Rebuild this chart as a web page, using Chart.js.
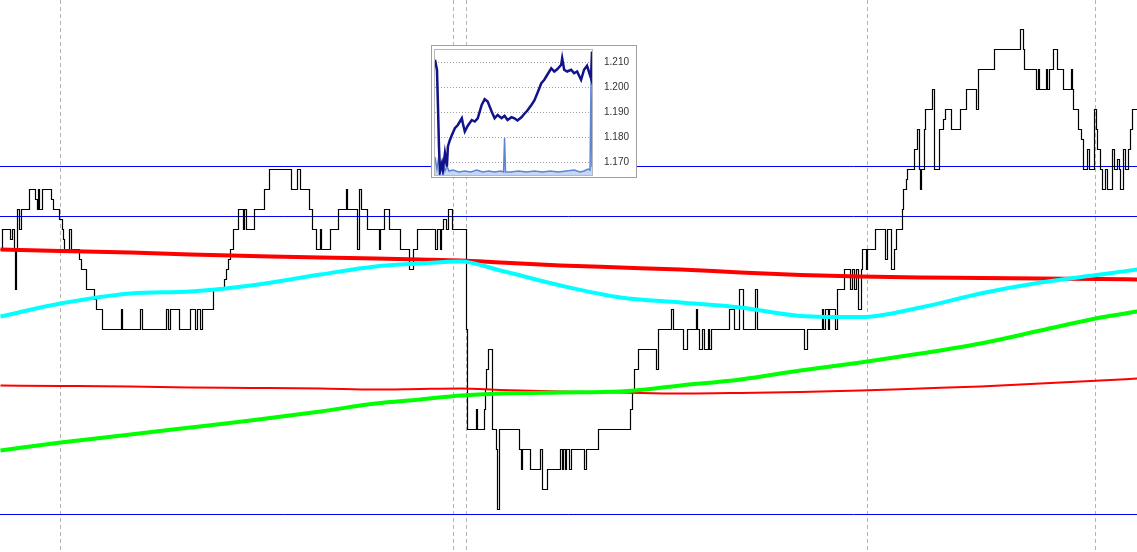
<!DOCTYPE html>
<html>
<head>
<meta charset="utf-8">
<script src="https://cdn.jsdelivr.net/npm/chart.js@4.4.1/dist/chart.umd.min.js"></script>
<style>
html,body{margin:0;padding:0;background:#fff;overflow:hidden}
#wrap{position:relative;width:1137px;height:552px}
#mainC{position:absolute;left:0;top:0}
#inset{position:absolute;left:431px;top:45px;width:204px;height:131px;border:1px solid #a0a0a0;background:#fff}
</style>
</head>
<body>
<div id="wrap">
  <canvas id="mainC" width="1137" height="552" style="width:1137px;height:552px"></canvas>
  <div id="inset"><canvas id="insetC" width="204" height="131" style="width:204px;height:131px"></canvas></div>
</div>
<script>
// ── DATA ────────────────────────────────────────────────────────────────────
// price in pips above the bottom level, step changes: [bar, level]
const tickBar = [0,2,10,12,14,15,16,17,19,21,29,35,37,38,39,42,51,53,59,62,63,64,69,71,79,81,86,94,96,102,
  121,122,140,142,166,168,170,179,190,195,197,200,202,213,224,226,228,230,233,238,243,244,246,254,264,269,
  291,297,300,309,312,316,320,321,330,338,346,347,357,359,361,367,379,380,384,389,400,409,413,417,435,437,
  440,441,443,446,448,452,466,467,476,477,484,485,486,488,492,496,497,499,519,521,522,530,540,542,547,560,
  562,563,565,566,569,571,584,586,598,630,632,634,638,656,658,671,673,683,687,696,697,699,702,704,708,709,
  711,729,734,739,743,755,757,804,807,822,823,825,828,829,835,837,844,850,852,854,856,858,861,862,866,867,
  875,885,887,891,894,896,902,903,906,907,914,917,919,920,921,924,925,932,934,937,939,943,945,951,960,966,
  976,978,994,1020,1023,1024,1036,1038,1039,1046,1047,1049,1053,1057,1063,1071,1072,1073,1078,1081,1083,
  1087,1089,1094,1096,1097,1100,1102,1105,1107,1112,1114,1117,1119,1120,1123,1125,1128,1130,1132,1137];
const tickLvl = [13,14,13.5,14,13,11,13,15,14,15,16,15.5,15,16,15,16,15.5,15,14.5,14,13.5,13,14,13,12.5,12,11,10.5,10,9,
  10,9,10,9,10,9,10,9,10,9,10,9,10,11,11.5,12,12.5,13,14,15,14,15,14,15,16,17,
  16,17,16,15,14,13,14,13,14,15,16,15,13,16,15,14,13,14,15,14,13,12,13,14,13,14,
  13,14,14.5,14,15,14,9,4,5,4,5,6,7,8,4,3,0,4,3,2,3,2,3,1,2,3,
  2,3,2,3,2,3,2,3,4,5,6,7,8,7,9,10,9,8,9,10,9,8,9,8,9,8,
  9,10,9,11,9,11,9,8,9,10,9,10,9,10,9,11,12,11,12,11,12,10,12,13,12,13,
  14,12.5,14,12,13,14,15,16,16.5,17,18,19,17,16,17,19,20,21,17,17,19,19.5,20,19,20,21,
  20,22,23,24,23,22,21,22,21,22,21,22,23,22,21,22,21,20,19,18.5,17,
  18,17,20,19,18,17,16,17,16,18,17,17.5,17,16,18,17,18,19,20,20];

// moving averages sampled along the bars
const maBar   = [0,60,130,190,250,320,375,420,460,500,560,620,680,740,800,860,920,980,1040,1100,1137];
const maFast  = [9.65,10.3,10.8,10.9,11.2,11.75,12.15,12.3,12.4,11.95,11.2,10.6,10.35,10.1,9.68,9.62,10.1,10.8,11.35,11.75,12.0];
const maMid   = [13.0,12.93,12.85,12.75,12.68,12.6,12.55,12.5,12.45,12.35,12.2,12.1,12.0,11.85,11.73,11.65,11.6,11.58,11.55,11.53,11.5];
const maSlow  = [2.95,3.35,3.75,4.1,4.45,4.9,5.3,5.5,5.7,5.8,5.85,5.9,6.2,6.5,6.95,7.35,7.8,8.3,8.95,9.6,9.9];
const maLong  = [6.2,6.18,6.15,6.1,6.08,6.05,6.0,6.03,6.05,5.98,5.9,5.85,5.8,5.83,5.88,5.95,6.05,6.15,6.3,6.45,6.55];

const hLevels = [17.15,14.65,-0.25];
const daySep  = [60,453,466,867,1095];

// inset: daily overview
const insetT  = [0,2,3,4,5,7,8,10,12,13,15,17,20,23,27,28,30,33,37,40,43,47,50,53,57,60,63,67,70,73,
  77,80,83,87,90,93,97,100,103,107,110,113,117,120,123,127,128,130,133,137,140,143,147,150,153,157,158];
const insetPx = [1.2111,1.2070,1.1924,1.1764,1.1664,1.1697,1.1670,1.1737,1.1684,1.1764,1.1790,1.1810,1.1837,1.1850,1.1877,1.1857,1.1824,1.1847,1.1870,1.1864,
  1.1877,1.1930,1.1953,1.1944,1.1904,1.1877,1.1890,1.1877,1.1887,1.1870,1.1881,1.1877,1.1868,1.1881,1.1895,1.1908,1.1930,1.1948,1.1977,1.2017,
  1.2031,1.2051,1.2077,1.2064,1.2073,1.2091,1.2117,1.2071,1.2064,1.2071,1.2057,1.2064,1.2031,1.2071,1.2087,1.2037,1.2144];
const volT = [0,2,4,6,8,10,12,14,18,24,30,36,42,48,54,60,66,69,70,71,76,84,92,100,108,116,124,132,140,146,150,154,156,157,158];
const vol  = [18,6,20,5,12,4,9,4,5,3,4,3,5,3,4,3,4,3,37,3,3,4,3,4,3,4,3,4,5,3,4,6,5,95,8];
const insetTicks = [1.17,1.18,1.19,1.20,1.21];

// ── HELPERS ─────────────────────────────────────────────────────────────────
const pts = (xs, ys) => xs.map((x,i)=>({x, y:ys[i]}));
const ma = (ys, color, w) => ({data:pts(maBar, ys), borderColor:color, borderWidth:w, cubicInterpolationMode:'monotone', pointRadius:0});
const hline = v => ({data:[{x:-1,y:v},{x:1138,y:v}], borderColor:'#0000ff', borderWidth:1, pointRadius:0});

const sepLines = {
  id:'sepLines',
  beforeDatasetsDraw(c){
    const {ctx, chartArea:a, scales:{x}} = c;
    ctx.save();
    ctx.strokeStyle='#b4b4b4'; ctx.lineWidth=1; ctx.setLineDash([4,3]);
    daySep.forEach(v=>{
      const px = x.getPixelForValue(v);
      ctx.beginPath(); ctx.moveTo(px,a.top); ctx.lineTo(px,a.bottom); ctx.stroke();
    });
    ctx.restore();
  }
};

const frame = {
  id:'frame',
  afterDatasetsDraw(c){
    const {ctx, chartArea:a} = c;
    ctx.save(); ctx.strokeStyle='#b8b8b8'; ctx.lineWidth=1;
    ctx.strokeRect(a.left-0.5, a.top-0.5, a.right-a.left+1, a.bottom-a.top+1);
    ctx.restore();
  }
};

// ── MAIN CHART ──────────────────────────────────────────────────────────────
new Chart(document.getElementById('mainC'), {
  type:'line',
  data:{datasets:[
    ma(maFast,'#00ffff',4),
    ma(maSlow,'#00ff00',4),
    ma(maMid,'#ff0000',4),
    ma(maLong,'#ff0000',2),
    {data:pts(tickBar,tickLvl), borderColor:'#000', borderWidth:1.2, stepped:'before', pointRadius:0},
    ...hLevels.map(hline)
  ]},
  options:{
    responsive:false, animation:false,
    layout:{padding:0},
    plugins:{legend:{display:false}, tooltip:{enabled:false}},
    scales:{
      x:{type:'linear', min:-0.5, max:1136.5, display:false},
      y:{min:-2.125, max:25.475, display:false}
    }
  },
  plugins:[sepLines]
});

// ── INSET ───────────────────────────────────────────────────────────────────
new Chart(document.getElementById('insetC'), {
  type:'line',
  data:{datasets:[
    {data:pts(insetT,insetPx), borderColor:'#12128a', borderWidth:2.5, pointRadius:0, yAxisID:'y'},
    {data:pts(volT,vol), borderColor:'#5b86d6', backgroundColor:'rgba(130,165,230,0.45)', fill:'origin', borderWidth:1.5, pointRadius:0, yAxisID:'v'}
  ]},
  options:{
    responsive:false, animation:false,
    layout:{padding:{left:3, top:4, bottom:2, right:0}},
    plugins:{legend:{display:false}, tooltip:{enabled:false}},
    scales:{
      x:{type:'linear', min:0, max:158, display:false},
      y:{position:'right', min:1.165, max:1.215,
         afterBuildTicks(ax){ ax.ticks = insetTicks.map(v=>({value:v})); },
         afterFit(ax){ ax.width = 44; ax.paddingTop = 0; ax.paddingBottom = 0; },
         grid:{color:'#a0a0a0', drawTicks:false},
         border:{display:false, dash:[1,2]},
         ticks:{padding:12, color:'#333', font:{size:10, family:'"Liberation Sans", Arial, sans-serif'}, callback:v=>v.toFixed(3)}},
      v:{position:'left', display:false, min:0, max:125}
    }
  },
  plugins:[frame]
});
</script>
</body>
</html>
